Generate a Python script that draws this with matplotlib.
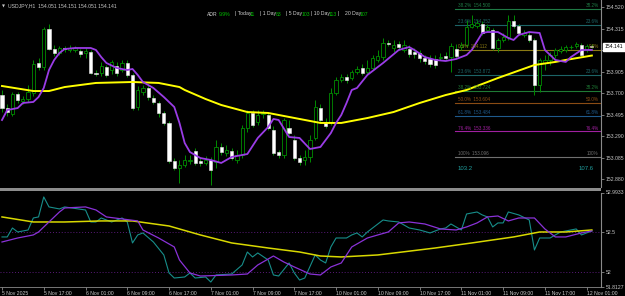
import matplotlib
matplotlib.use('Agg')
import matplotlib.pyplot as plt
from matplotlib.patches import Rectangle
import numpy as np

plt.rcParams['font.family'] = ['Liberation Sans', 'DejaVu Sans']

# ---------------- data ----------------
opens = [153.682,153.558,153.501,153.692,153.625,153.644,153.701,153.987,153.949,154.311,
         154.120,154.082,154.130,154.111,154.111,154.101,154.082,154.092,153.892,153.892,
         153.949,153.920,153.958,153.920,153.987,153.873,153.568,153.711,153.749,153.654,
         153.606,153.511,153.416,153.054,152.987,153.016,153.054,153.149,153.054,153.035,
         153.063,153.044,153.187,153.130,153.149,153.063,153.111,153.368,153.511,153.425,
         153.501,153.492,153.349,153.139,153.111,153.368,153.254,153.082,153.063,153.092,
         153.273,153.558,153.425,153.425,153.701,153.825,153.854,153.844,153.901,153.939,
         153.901,153.939,154.016,154.044,154.177,154.130,154.168,154.111,154.120,154.092,
         154.082,154.035,154.025,154.025,154.035,154.054,154.044,154.120,154.139,154.158,
         154.330,154.339,154.358,154.301,154.301,154.130,154.206,154.235,154.387,154.339,
         154.254,154.254,154.206,153.778,153.987,154.016,154.063,154.101,154.111,154.139,
         154.149,154.158,154.111,154.149]
highs = [153.730,153.597,153.711,153.711,153.673,153.778,154.016,154.035,154.330,154.358,
         154.158,154.149,154.149,154.158,154.149,154.120,154.130,154.111,153.920,153.997,
         153.968,154.016,153.997,154.016,154.016,153.892,153.768,153.778,153.778,153.682,
         153.625,153.530,153.435,153.082,153.063,153.111,153.111,153.177,153.082,153.101,
         153.092,153.254,153.225,153.206,153.177,153.158,153.397,153.539,153.539,153.539,
         153.539,153.520,153.387,153.158,153.463,153.444,153.301,153.111,153.158,153.301,
         153.635,153.597,153.463,153.749,153.854,153.882,153.882,153.920,153.958,153.977,
         154.016,154.063,154.111,154.225,154.206,154.206,154.197,154.206,154.158,154.130,
         154.111,154.063,154.063,154.063,154.082,154.092,154.177,154.168,154.187,154.397,
         154.444,154.397,154.387,154.358,154.320,154.225,154.273,154.444,154.444,154.358,
         154.301,154.282,154.225,154.035,154.063,154.092,154.130,154.149,154.158,154.158,
         154.187,154.177,154.168,154.168]
lows = [153.520,153.482,153.482,153.606,153.597,153.616,153.673,153.920,153.920,154.111,
        154.054,154.063,154.092,154.092,154.092,154.044,154.035,153.882,153.863,153.863,
        153.854,153.882,153.863,153.901,153.854,153.539,153.539,153.682,153.635,153.597,
        153.473,153.397,153.035,152.968,152.844,152.997,153.025,153.016,153.006,153.016,
        152.825,152.987,153.111,153.101,153.063,153.035,153.082,153.330,153.378,153.397,
        153.463,153.349,153.111,153.082,153.082,153.301,153.063,153.016,153.016,153.044,
        153.254,153.425,153.368,153.397,153.682,153.806,153.797,153.825,153.882,153.873,
        153.873,153.920,153.997,154.016,154.149,154.092,154.111,154.092,154.044,154.035,
        153.997,153.977,153.949,153.939,154.016,154.016,153.901,154.035,154.111,154.139,
        154.320,154.320,154.254,154.282,154.111,154.092,154.187,154.206,154.320,154.254,
        154.235,154.187,153.682,153.711,153.920,153.968,154.035,154.082,154.092,154.120,
        154.130,154.044,154.092,154.130]
closes = [153.558,153.520,153.692,153.635,153.644,153.711,153.977,153.949,154.311,154.120,
          154.082,154.130,154.120,154.130,154.130,154.073,154.101,153.892,153.882,153.958,
          153.873,153.997,153.892,153.987,153.873,153.558,153.730,153.749,153.663,153.616,
          153.511,153.416,153.054,152.987,153.016,153.063,153.063,153.035,153.035,153.063,
          152.968,153.187,153.139,153.158,153.082,153.111,153.368,153.511,153.397,153.492,
          153.511,153.368,153.130,153.111,153.444,153.320,153.082,153.044,153.092,153.254,
          153.568,153.444,153.387,153.701,153.825,153.854,153.825,153.901,153.930,153.892,
          153.939,154.035,154.054,154.177,154.168,154.158,154.139,154.158,154.073,154.073,
          154.035,154.006,153.977,153.968,154.044,154.035,154.149,154.054,154.158,154.330,
          154.358,154.368,154.273,154.330,154.130,154.206,154.235,154.387,154.339,154.273,
          154.273,154.206,153.778,154.016,154.016,154.063,154.111,154.120,154.139,154.139,
          154.168,154.063,154.149,154.141]

# fast MA (purple) and slow MA (yellow)
ma_fast_bars = [0,1,3,4,6,7,8,9,10,11,12,14,17,18,19,20,22,24,25,26,27,29,31,33,34,35,36,38,40,42,
                44,47,49,51,52,53,55,57,59,61,63,64,65,66,67,68,70,73,76,78,79,81,83,85,87,89,90,
                92,93,95,97,98,99,101,103,104,106,108,109,111,113]
ma_fast_vals = [153.444,153.539,153.558,153.606,153.616,153.663,153.749,153.920,154.016,154.082,
                154.120,154.130,154.130,154.111,154.044,153.987,153.939,153.920,153.930,153.873,
                153.806,153.749,153.663,153.568,153.416,153.225,153.139,153.082,153.063,153.035,
                153.092,153.120,153.273,153.378,153.454,153.444,153.282,153.273,153.168,153.187,
                153.320,153.416,153.492,153.606,153.730,153.749,153.873,153.987,154.111,154.139,
                154.111,154.044,154.016,154.006,154.025,154.063,154.111,154.273,154.282,154.282,
                154.225,154.206,154.254,154.282,154.273,154.111,154.016,153.997,154.044,154.111,
                154.111]
ma_slow_bars = [0,6,9,12,18,25,30,34,35,39,42,47,51,55,57,61,65,70,75,80,85,89,95,102,106,108,113]
ma_slow_vals = [153.768,153.720,153.720,153.758,153.797,153.806,153.797,153.758,153.730,153.644,
                153.587,153.520,153.511,153.473,153.454,153.416,153.416,153.463,153.520,153.606,
                153.682,153.730,153.844,153.968,153.997,154.016,154.058]

# lower oscillator panel
osc_yellow_bars = [0,6,12,19,25,32,38,44,51,57,61,65,72,83,90,98,103,108,113]
osc_yellow_vals = [52.688,52.625,52.625,52.638,52.638,52.575,52.463,52.363,52.300,52.250,52.200,
                   52.188,52.213,52.300,52.363,52.438,52.500,52.500,52.525]
osc_purple_bars = [0,3,6,7,9,11,12,16,18,20,23,26,27,30,33,34,36,38,44,47,49,52,54,56,59,61,63,65,
                   67,70,72,74,76,78,81,84,87,89,91,93,95,97,99,102,104,106,108,111,113]
osc_purple_vals = [52.375,52.425,52.463,52.500,52.625,52.750,52.800,52.813,52.775,52.688,52.663,
                   52.638,52.525,52.425,52.313,52.150,51.988,51.950,51.963,51.975,52.088,52.200,
                   52.125,52.063,51.975,51.963,52.063,52.113,52.313,52.425,52.463,52.500,52.613,
                   52.625,52.600,52.538,52.525,52.563,52.613,52.688,52.700,52.638,52.675,52.675,
                   52.538,52.438,52.438,52.488,52.513]
osc_cyan_bars = [0,1,2,3,5,6,7,8,9,11,12,16,17,18,19,21,23,24,25,26,27,29,31,32,33,35,36,37,39,40,
                 41,44,46,47,48,49,51,52,53,55,56,57,58,60,61,62,63,64,66,67,68,69,70,71,73,74,76,
                 78,80,82,84,85,86,88,89,91,92,93,94,95,96,97,99,101,102,103,105,106,107,110,111,113]
osc_cyan_vals = [52.438,52.438,52.550,52.500,52.525,52.675,52.688,52.938,52.813,52.788,52.813,
                 52.775,52.625,52.625,52.675,52.625,52.675,52.625,52.363,52.463,52.488,52.375,
                 52.213,51.988,51.925,51.938,51.988,51.925,51.938,51.875,51.963,51.975,52.088,
                 52.250,52.188,52.238,52.150,51.963,51.950,52.113,51.988,51.900,51.925,52.213,
                 52.150,52.113,52.313,52.425,52.425,52.463,52.488,52.438,52.500,52.550,52.650,
                 52.638,52.625,52.550,52.525,52.488,52.538,52.550,52.600,52.525,52.725,52.750,
                 52.713,52.688,52.563,52.613,52.613,52.750,52.713,52.650,52.275,52.425,52.425,
                 52.463,52.500,52.538,52.463,52.513]
osc_levels = [52.5, 52.0]

# Fibonacci retracement
fib_start_bar = 87
fib_names = ["38.2%", "23.6%", "0.0%", "23.6%", "38.2%", "50.0%", "61.8%", "76.4%", "100%"]
fib_prices = [154.500, 154.352, 154.112, 153.872, 153.724, 153.604, 153.484, 153.336, 153.096]
fib_colors = ['#1f7a45', '#1c6466', '#8a7a14', '#1c6466', '#1f7a35', '#8b4c14', '#1f5a8c',
              '#a020a0', '#707070']
range_left, range_right = "103.2", "107.6"

price_ticks = [154.520, 154.315, 154.110, 153.905, 153.700, 153.495, 153.290, 153.085, 152.880]
osc_ticks = [52.9933, 52.5, 52.0, 51.8127]
osc_tick_labels = ["52.9933", "52.5", "52", "51.8127"]
time_ticks = [0, 8, 16, 24, 32, 40, 48, 56, 64, 72, 80, 88, 96, 104, 112]
time_labels = ["5 Nov 2025", "5 Nov 17:00", "6 Nov 01:00", "6 Nov 09:00", "6 Nov 17:00",
               "7 Nov 01:00", "7 Nov 09:00", "7 Nov 17:00", "10 Nov 01:00", "10 Nov 09:00",
               "10 Nov 17:00", "11 Nov 01:00", "11 Nov 09:00", "11 Nov 17:00", "12 Nov 01:00"]
symbol_text = "USDJPY,H1  154.051 154.151 154.051 154.141"
last_price = 154.141
adr_texts = ["ADR", "9.9%", "| Today", "11", "| 1 Day", "83", "| 5 Day", "103",
             "| 10 Day", "113", "|", "20 Day", "107"]
adr_is_value = [False, True, False, True, False, True, False, True, False, True, False, False, True]

# ---------------- drawing ----------------
W, H = 625, 296
fig = plt.figure(figsize=(W / 100, H / 100), dpi=100, facecolor='black')
FS = 3.7
TXT = '#c8c8c8'

def fy(py):
    return 1 - py / H

ax = fig.add_axes([0, fy(187), 601 / W, 187 / H])
ax2 = fig.add_axes([0, fy(287), 601 / W, (287 - 192.5) / H])
XL = (-0.383, 114.75)
for a in (ax, ax2):
    a.set_facecolor('black')
    a.set_xlim(*XL)
    for s in ('top', 'left', 'bottom'):
        a.spines[s].set_visible(False)
    a.spines['right'].set_color('#8a8a8a')
    a.spines['right'].set_linewidth(0.8)
    a.yaxis.tick_right()
    a.tick_params(axis='y', colors='#8a8a8a', labelcolor=TXT, labelsize=FS, length=2, width=0.6, pad=1.5)

ax.set_ylim(152.806, 154.587)
ax2.set_ylim(51.8127, 52.9933)

# candles
idx = np.arange(len(opens))
o = np.array(opens); c = np.array(closes); h = np.array(highs); l = np.array(lows)
bull = c >= o
wick_col = '#008c00'
ax.vlines(idx, l, h, color=wick_col, linewidth=0.7, zorder=2)
ax.bar(idx[bull], (c - o)[bull], bottom=o[bull], width=0.62, color='black',
       edgecolor=wick_col, linewidth=0.6, zorder=3)
ax.bar(idx[~bull], (o - c)[~bull], bottom=c[~bull], width=0.62, color='white',
       edgecolor='#e8e8e8', linewidth=0.4, zorder=3)

ax.plot(ma_slow_bars, ma_slow_vals, color='#ffff00', linewidth=1.4, zorder=4)
ax.plot(ma_fast_bars, ma_fast_vals, color='#9a3ce6', linewidth=1.3, zorder=4)

# fib lines
for name, p, col in zip(fib_names, fib_prices, fib_colors):
    ax.plot([fib_start_bar - 0.2, XL[1]], [p, p], color=col, linewidth=0.8, zorder=1.5)
    ax.text(fib_start_bar + 0.3, p + 0.008, f"{name}  {p:.3f}", color=col, fontsize=FS - 0.4,
            va='bottom', ha='left', zorder=5)
    ax.text(114.3, p + 0.008, name, color=col, fontsize=FS - 0.4, va='bottom', ha='right', zorder=5)
ax.text(fib_start_bar + 0.3, 152.985, range_left, color='#20a0a0', fontsize=FS + 0.6, va='center', ha='left')
ax.text(110.4, 152.985, range_right, color='#20a0a0', fontsize=FS + 0.6, va='center', ha='left')

ax.set_xticks([])
ax.set_yticks(price_ticks)
ax.set_yticklabels([f"{t:.3f}" for t in price_ticks])

# last price box
ax.text(1.006, last_price, f"{last_price:.3f}", transform=ax.get_yaxis_transform(),
        fontsize=FS, color='black', va='center', ha='left', zorder=10, clip_on=False,
        bbox=dict(boxstyle='square,pad=0.3', facecolor='white', edgecolor='white'))

# lower panel
for lv in osc_levels:
    ax2.axhline(lv, color='#5a1a7a', linewidth=0.7, linestyle=(0, (1, 2)), zorder=1)
ax2.plot(osc_yellow_bars, osc_yellow_vals, color='#d8d800', linewidth=1.1, zorder=3)
ax2.plot(osc_purple_bars, osc_purple_vals, color='#8a32d8', linewidth=0.9, zorder=3)
ax2.plot(osc_cyan_bars, osc_cyan_vals, color='#178e8a', linewidth=0.8, zorder=2)
ax2.set_yticks(osc_ticks)
ax2.set_yticklabels(osc_tick_labels)
ax2.set_xticks(time_ticks)
ax2.set_xticklabels(time_labels, ha='left')
ax2.tick_params(axis='x', colors='#8a8a8a', labelcolor=TXT, labelsize=FS, length=2, width=0.6, pad=1)
ax2.spines['bottom'].set_visible(True)
ax2.spines['bottom'].set_color('#8a8a8a')
ax2.spines['bottom'].set_linewidth(0.6)

# separator between panels
fig.patches.append(Rectangle((0, fy(191)), 601 / W, 3 / H, transform=fig.transFigure,
                             facecolor='#8c8c8c', edgecolor='none'))

# header texts
fig.text(2 / W, fy(6), "\u25bc", fontsize=2.8, color=TXT, va='center', ha='left',
         family=['DejaVu Sans'])
fig.text(8 / W, fy(6), symbol_text, fontsize=FS, color=TXT, va='center', ha='left')

adr_x = [207, 219, 235, 250, 260, 276, 286, 302, 311, 329, 337, 345, 360]
for px, txt, isval in zip(adr_x, adr_texts, adr_is_value):
    fig.text(px / W, fy(14), txt, fontsize=FS, color='#00c000' if isval else '#d0d0d0',
             va='center', ha='left')

fig.savefig('out.png', dpi=100, facecolor='black')
